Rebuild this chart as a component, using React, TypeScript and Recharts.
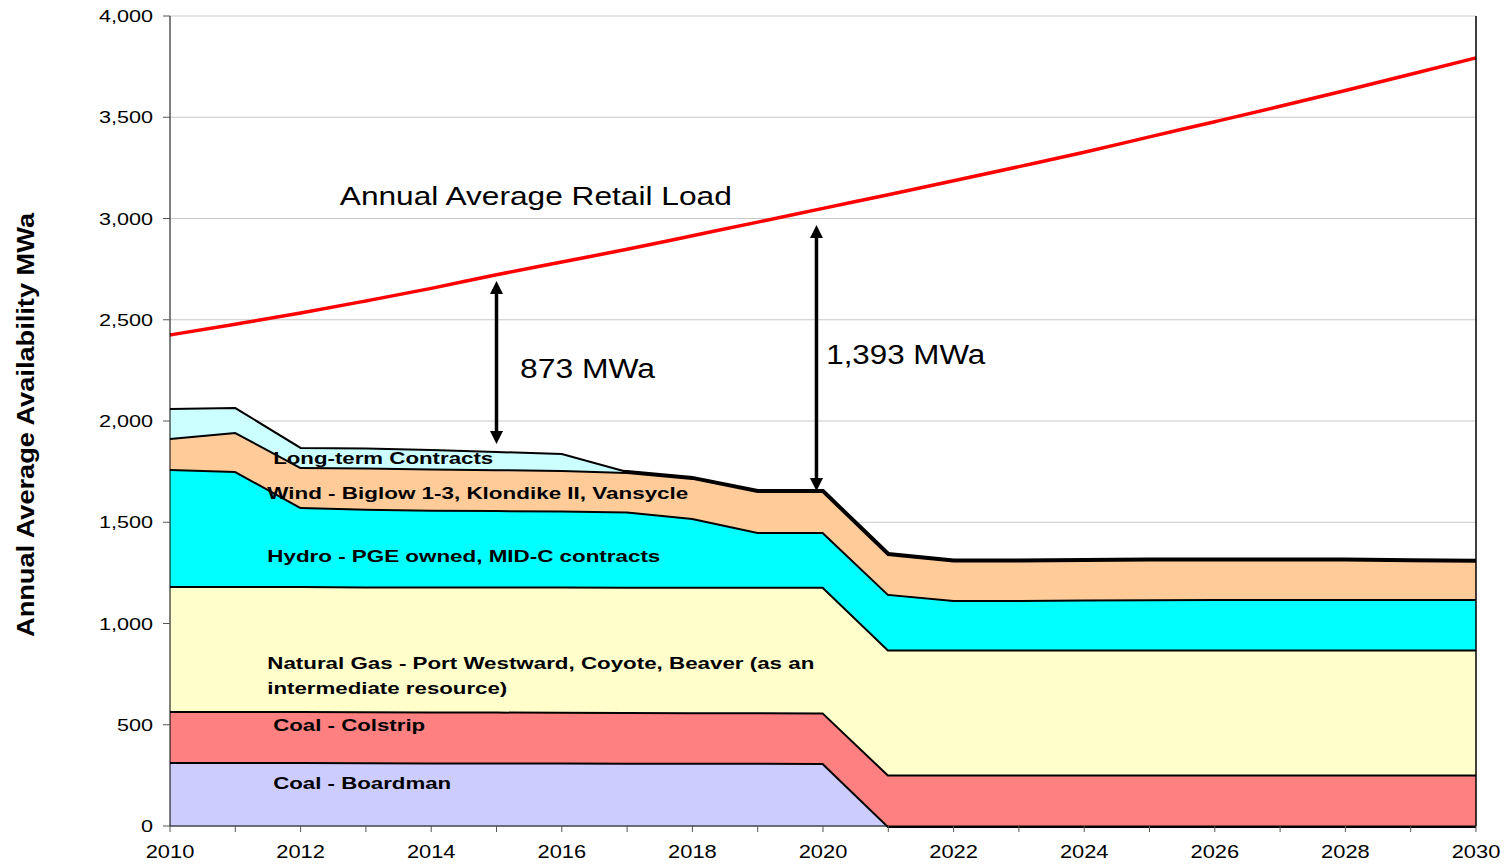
import React from "react";
import {
  ComposedChart,
  Area,
  Line,
  XAxis,
  YAxis,
  CartesianGrid,
  ReferenceLine,
  ReferenceDot,
} from "recharts";

const years = [
  2010, 2011, 2012, 2013, 2014, 2015, 2016, 2017, 2018, 2019, 2020,
  2021, 2022, 2023, 2024, 2025, 2026, 2027, 2028, 2029, 2030,
];
const boardman = [316, 316, 316, 315, 314, 314, 313, 312, 312, 312, 311, 0, 0, 0, 0, 0, 0, 0, 0, 0, 0];
const colstrip = [252, 252, 252, 252, 252, 251, 251, 251, 250, 250, 250, 254, 254, 254, 254, 254, 254, 254, 254, 254, 254];
const naturalGas = [617, 617, 617, 616, 617, 618, 619, 618, 619, 619, 620, 617, 617, 617, 617, 617, 617, 617, 617, 617, 617];
const hydro = [578, 568, 390, 384, 379, 377, 375, 372, 340, 271, 271, 275, 245, 245, 247, 249, 250, 250, 250, 250, 250];
const wind = [153, 193, 198, 203, 204, 202, 200, 195, 198, 202, 202, 197, 195, 195, 196, 196, 195, 195, 195, 191, 189];
const longTerm = [143, 118, 94, 94, 91, 85, 79, 0, 0, 0, 0, 0, 0, 0, 0, 0, 0, 0, 0, 0, 0];
const retailLoad = [
  2425, 2478, 2533, 2593, 2655, 2722, 2785, 2848, 2915, 2982, 3050,
  3117, 3186, 3256, 3327, 3403, 3478, 3554, 3632, 3712, 3793,
];
const yTicks = [0, 500, 1000, 1500, 2000, 2500, 3000, 3500, 4000];

const data = years.map((year, i) => ({
  year,
  boardman: boardman[i],
  colstrip: colstrip[i],
  naturalGas: naturalGas[i],
  hydro: hydro[i],
  wind: wind[i],
  longTerm: longTerm[i],
  retailLoad: retailLoad[i],
}));

const FONT = "Arial, 'Liberation Sans', sans-serif";

// labels placed in data coordinates: [text, year, value, width, size, bold]
const annotations: [string, number, number, number, number, boolean][] = [
  ["Annual Average Retail Load", 2012.6, 3067, 392, 25, false],
  ["873 MWa", 2015.36, 2212, 135, 27, false],
  ["1,393 MWa", 2020.05, 2281, 159, 27, false],
  ["Long-term Contracts", 2011.58, 1788, 220, 17, true],
  ["Wind - Biglow 1-3, Klondike II, Vansycle", 2011.49, 1615, 421, 17, true],
  ["Hydro - PGE owned, MID-C contracts", 2011.49, 1304, 393, 17, true],
  ["Natural Gas - Port Westward, Coyote, Beaver (as an", 2011.49, 775, 547, 17, true],
  ["intermediate resource)", 2011.49, 652, 240, 17, true],
  ["Coal - Colstrip", 2011.58, 469, 152, 17, true],
  ["Coal - Boardman", 2011.58, 183, 178, 17, true],
];

// gap arrows: [year, top value, bottom value]
const arrows: [number, number, number][] = [
  [2015, 2691, 1886],
  [2019.9, 2968, 1654],
];

const series = [
  { key: "boardman", fill: "#ccccff" },
  { key: "colstrip", fill: "#ff8080" },
  { key: "naturalGas", fill: "#ffffcc" },
  { key: "hydro", fill: "#00ffff" },
  { key: "wind", fill: "#ffcc99" },
  { key: "longTerm", fill: "#ccffff" },
];

const XTick = (props: any) => {
  const { x, y, payload } = props;
  if (payload.value % 2 !== 0) return <g />;
  return (
    <text
      transform={`translate(${x},${y}) scale(1.25,1)`}
      textAnchor="middle"
      dy="0.71em"
      fontSize={17.5}
      fontFamily={FONT}
      fill="#000"
    >
      {payload.value}
    </text>
  );
};

const YTick = (props: any) => {
  const { x, y, payload } = props;
  return (
    <text
      transform={`translate(${x},${y}) scale(1.27,1)`}
      textAnchor="end"
      dy="0.36em"
      fontSize={17}
      fontFamily={FONT}
      fill="#000"
    >
      {payload.value.toLocaleString("en-US")}
    </text>
  );
};

const DoubleArrow = (props: any) => {
  const { x1, y1, y2 } = props;
  const top = Math.min(y1, y2);
  const bottom = Math.max(y1, y2);
  const head = 13;
  const half = 6.5;
  return (
    <g>
      <line x1={x1} x2={x1} y1={top + head - 2} y2={bottom - head + 2} stroke="#000" strokeWidth={3.5} />
      <polygon points={`${x1},${top} ${x1 - half},${top + head} ${x1 + half},${top + head}`} fill="#000" />
      <polygon points={`${x1},${bottom} ${x1 - half},${bottom - head} ${x1 + half},${bottom - head}`} fill="#000" />
    </g>
  );
};

const App = () => {
  return (
    <div style={{ position: "absolute", left: 0, top: 0, background: "#fff" }}>
      <ComposedChart
        width={1509}
        height={866}
        data={data}
        margin={{ top: 16, right: 33, left: 0, bottom: 0 }}
      >
        <CartesianGrid horizontal vertical={false} stroke="#c8c8c8" />
        <XAxis
          dataKey="year"
          type="number"
          domain={[2010, 2030]}
          ticks={years}
          interval={0}
          height={40}
          tickSize={6}
          tickMargin={14}
          stroke="#000"
          tickLine={{ stroke: "#555" }}
          tick={<XTick />}
        />
        <YAxis
          type="number"
          domain={[0, 4000]}
          ticks={yTicks}
          width={170}
          tickSize={7}
          tickMargin={10}
          stroke="#000"
          tickLine={{ stroke: "#555" }}
          tick={<YTick />}
          label={{
            content: () => (
              <text
                transform="translate(34,425) rotate(-90)"
                textAnchor="middle"
                fontSize={24}
                fontWeight="bold"
                fontFamily={FONT}
                textLength={424}
                lengthAdjust="spacingAndGlyphs"
                fill="#000"
              >
                Annual Average Availability MWa
              </text>
            ),
          }}
        />
        {/* the next area's fill covers the upper half of each stroke, so lower ones get a wider stroke */}
        {series.map((s) => (
          <Area
            key={s.key}
            type="linear"
            dataKey={s.key}
            stackId="s"
            fill={s.fill}
            fillOpacity={1}
            stroke="#000"
            strokeWidth={s.key === "longTerm" ? 2 : 4}
            isAnimationActive={false}
            dot={false}
            activeDot={false}
          />
        ))}
        <Line type="monotone" dataKey="retailLoad" stroke="#ff0000" strokeWidth={3.5} dot={false} activeDot={false} isAnimationActive={false} />
        <ReferenceLine x={2030} stroke="#000" strokeWidth={1.5} />
        {arrows.map(([x, top, bottom], i) => (
          <ReferenceLine
            key={"arrow" + i}
            segment={[{ x, y: top }, { x, y: bottom }]}
            shape={<DoubleArrow />}
          />
        ))}
        {annotations.map(([text, x, y, w, size, bold]) => (
          <ReferenceDot
            key={text}
            x={x}
            y={y}
            r={0}
            shape={(p: any) => (
              <text
                x={p.cx}
                y={p.cy}
                fontSize={size}
                fontWeight={bold ? "bold" : "normal"}
                fontFamily={FONT}
                textLength={w}
                lengthAdjust="spacingAndGlyphs"
                fill="#000"
              >
                {text}
              </text>
            )}
          />
        ))}
      </ComposedChart>
    </div>
  );
};

export default App;
